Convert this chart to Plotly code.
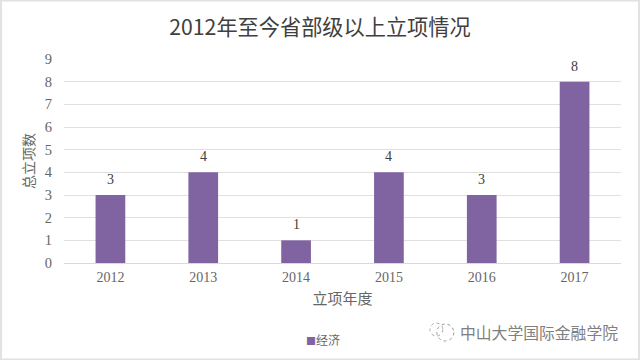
import plotly.graph_objects as go

years = ["2012", "2013", "2014", "2015", "2016", "2017"]
counts = [3, 4, 1, 4, 3, 8]
series_name = "经济"
title_text = "2012年至今省部级以上立项情况"
x_title = "立项年度"
y_title = "总立项数"
watermark = "中山大学国际金融学院"

W, H = 640, 360
L, R, T, B = 63.5, 621.5, 59, 263
serif = "Liberation Serif, Noto Sans CJK SC, serif"
cjk = "Noto Sans CJK SC, sans-serif"
px = lambda x: (x - L) / (R - L)
py = lambda y: (B - y) / (B - T)

fig = go.Figure(go.Bar(
    x=years, y=counts, name=series_name, width=0.32,
    marker=dict(color="#8064a2", line_width=0),
    showlegend=False,
))

# On a category axis, annotation x is the category index.
annotations = [dict(x=i, y=v, text=str(v), xref="x", yref="y", yanchor="bottom", yshift=6,
                    showarrow=False, font=dict(family=serif, size=14, color="#404040"))
               for i, v in enumerate(counts)]
annotations += [
    dict(text=watermark, xref="paper", yref="paper", x=px(620.5), xanchor="right",
         y=py(332), yanchor="middle", showarrow=False,
         font=dict(family=cjk, size=15.8, color="#808080")),
    dict(text=f'<span style="color:#8064a2;font-size:10px">■</span>{series_name}', xref="paper", yref="paper",
         x=px(304), xanchor="left", y=py(339), yanchor="middle", showarrow=False,
         font=dict(family=cjk, size=12, color="#666666")),
]

shapes = [
    dict(type="rect", xref="paper", yref="paper", x0=px(0), x1=px(W), y0=py(H), y1=py(0),
         line=dict(color="#e2e2e2", width=3), fillcolor="rgba(0,0,0,0)", layer="above"),
    dict(type="circle", xref="paper", yref="paper", x0=px(437), x1=px(454), y0=py(341), y1=py(324),
         line=dict(color="#999999", width=1, dash="dot"), fillcolor="rgba(0,0,0,0)"),
    dict(type="circle", xref="paper", yref="paper", x0=px(430), x1=px(443), y0=py(336), y1=py(323),
         line=dict(color="#aaaaaa", width=1, dash="dot"), fillcolor="rgba(0,0,0,0)"),
]

fig.update_layout(
    width=W, height=H, autosize=False,
    margin=dict(l=L, r=W - R, t=T, b=H - B),
    paper_bgcolor="white", plot_bgcolor="white",
    bargap=0.68, showlegend=False,
    title=dict(text=title_text, x=320 / W, xanchor="center", y=1 - 28 / H, yanchor="middle",
               font=dict(family=cjk, size=21.2, color="#404040")),
    xaxis=dict(type="category", showgrid=False, showline=True, linecolor="#d9d9d9", linewidth=1,
               ticks="outside", ticklen=1, tickcolor="rgba(0,0,0,0)",
               tickfont=dict(family=serif, size=14, color="#666666"),
               title=dict(text=x_title, standoff=9, font=dict(family=serif, size=15, color="#666666"))),
    yaxis=dict(range=[0, 9], dtick=1, gridcolor="#e0e0e0", gridwidth=1, zeroline=False,
               ticks="outside", ticklen=8, tickcolor="rgba(0,0,0,0)",
               tickfont=dict(family=serif, size=14.5, color="#666666"),
               title=dict(text=y_title, standoff=6, font=dict(family=serif, size=14, color="#666666"))),
    font=dict(family=cjk),
    annotations=annotations,
    shapes=shapes,
)
fig.write_html("out.html", post_script="document.body.style.margin='0';",
               config=dict(displayModeBar=False))
